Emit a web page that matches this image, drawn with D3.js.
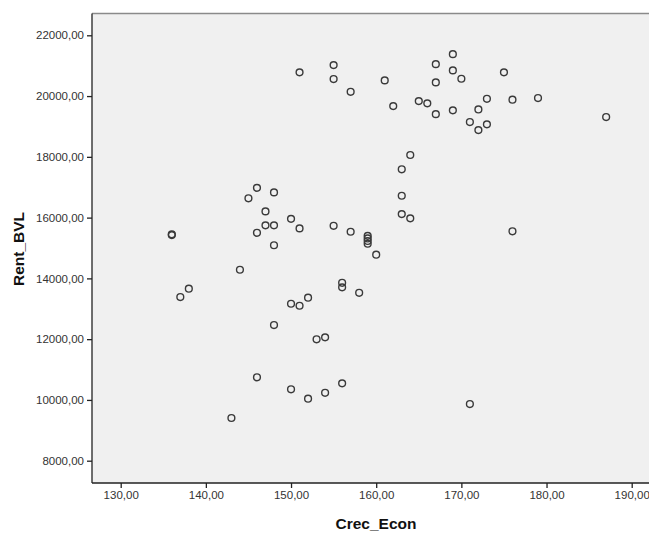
<!DOCTYPE html>
<head>
	<script src="https://d3js.org/d3.v7.min.js"></script>
	<style>
		body { margin: 0; background: #fff; }
		text { font-family: Arial, "Liberation Sans", sans-serif; }
	</style>
</head>
<body>
	<script type="text/javascript">

		var w = 649;
		var h = 533;

		// Crec_Econ (x) and Rent_BVL (y)
		var crecEcon = [151, 155, 155, 157, 161, 162, 165, 166, 164, 163,
						169, 167, 169, 170, 167, 175, 167, 169, 173, 176,
						179, 172, 171, 172, 173, 187, 146, 148, 145, 147,
						147, 148, 146, 148, 150, 151, 155, 157, 159, 159,
						159, 159, 160, 144, 156, 156, 158, 150, 151, 152,
						148, 153, 154, 163, 163, 164, 136, 136, 137, 138,
						176, 146, 150, 152, 154, 156, 143, 171];
		var rentBVL = [20780, 21020, 20560, 20140, 20515, 19670, 19835, 19760, 18060, 17590,
					   21380, 21050, 20845, 20570, 20450, 20780, 19405, 19530, 19910, 19880,
					   19935, 19560, 19145, 18880, 19070, 19310, 16980, 16830, 16635, 16205,
					   15745, 15745, 15500, 15090, 15960, 15645, 15730, 15535, 15400, 15315,
					   15230, 15140, 14780, 14285, 13855, 13705, 13525, 13165, 13100, 13365,
					   12465, 11995, 12060, 16720, 16115, 15975, 15425, 15450, 13385, 13660,
					   15550, 10745, 10350, 10040, 10235, 10545, 9405, 9865];

		var xTicks = [130, 140, 150, 160, 170, 180, 190];
		var yTicks = [8000, 10000, 12000, 14000, 16000, 18000, 20000, 22000];

		var plotL = 92, plotT = 13.5, plotB = 483, plotR = 700;

		var svg = d3.select("body")
				.append("svg")
				.attr("width", w)
				.attr("height", h);

		var xScale = d3.scaleLinear()
					.domain([130, 190])
					.range([120.7, 631.7]);

		var yScale = d3.scaleLinear()
					.domain([8000, 22000])
					.range([460.7, 35.3]);

		var fmt = function(d) { return d3.format(".2f")(d).replace(".", ","); };

		// plot background
		svg.append("rect")
			.attr("x", plotL)
			.attr("y", plotT)
			.attr("width", plotR - plotL)
			.attr("height", plotB - plotT)
			.attr("fill", "#f0f0f0");

		svg.append("line")
			.attr("x1", plotL).attr("x2", plotR)
			.attr("y1", plotT).attr("y2", plotT)
			.attr("stroke", "#8a8a8a")
			.attr("stroke-width", 1.3);

		// y axis
		svg.append("g")
			.attr("transform", "translate(" + plotL + ",0)")
			.call(d3.axisLeft(yScale).tickValues(yTicks).tickFormat(fmt).tickSize(5).tickSizeOuter(0))
			.call(function(g) {
				g.select(".domain").attr("d", "M0," + plotT + "V" + plotB);
			});

		// x axis
		svg.append("g")
			.attr("transform", "translate(0," + plotB + ")")
			.call(d3.axisBottom(xScale).tickValues(xTicks).tickFormat(fmt).tickSize(5).tickSizeOuter(0))
			.call(function(g) {
				g.select(".domain").attr("d", "M" + plotL + ",0H" + plotR);
			});

		svg.selectAll(".domain")
			.attr("stroke", "#222")
			.attr("stroke-width", 1.3);
		svg.selectAll(".tick line")
			.attr("stroke", "#222")
			.attr("stroke-width", 1.3);
		svg.selectAll(".tick text")
			.attr("fill", "#333")
			.style("font-size", "11.5px")
			.style("font-family", "Arial, 'Liberation Sans', sans-serif");

		// points
		svg.selectAll("circle")
			.data(crecEcon)
			.enter()
			.append("circle")
			.attr("cx", function(d) { return xScale(d); })
			.attr("cy", function(d, i) { return yScale(rentBVL[i]); })
			.attr("r", 3.4)
			.attr("fill", "none")
			.attr("stroke", "#3a3a3a")
			.attr("stroke-width", 1.4);

		// axis titles
		svg.append("text")
			.attr("x", 376)
			.attr("y", 529)
			.attr("text-anchor", "middle")
			.attr("font-weight", "bold")
			.attr("font-size", "15.5px")
			.attr("fill", "#111")
			.text("Crec_Econ");

		svg.append("text")
			.attr("transform", "translate(24,249) rotate(-90)")
			.attr("text-anchor", "middle")
			.attr("font-weight", "bold")
			.attr("font-size", "15.5px")
			.attr("fill", "#111")
			.text("Rent_BVL");

	</script>
</body>
